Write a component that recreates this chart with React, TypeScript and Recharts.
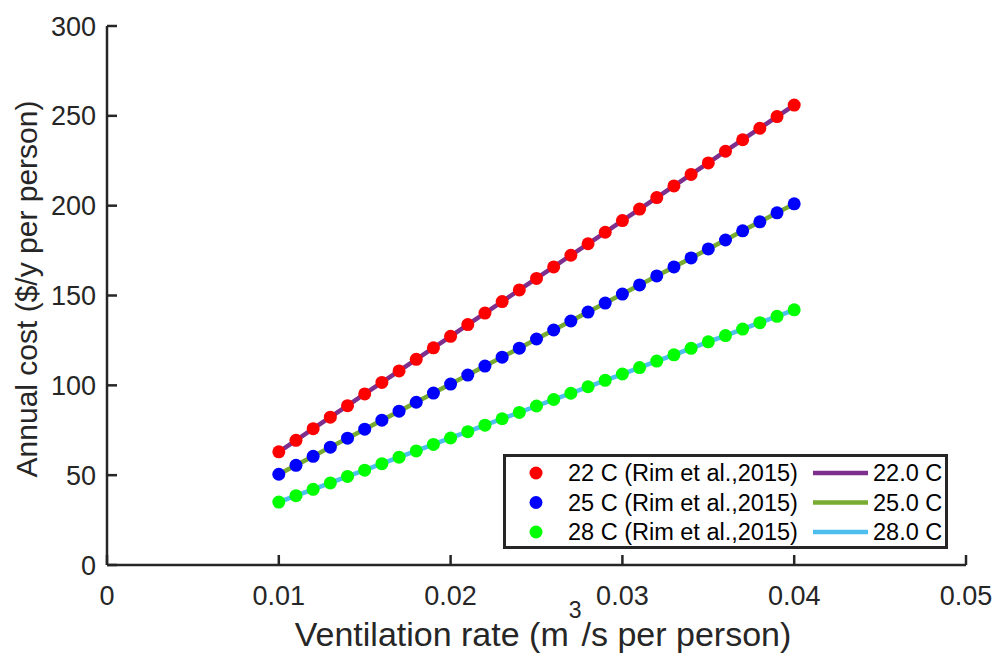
import React from 'react';
import { LineChart, Line, XAxis, YAxis, Legend, Label } from 'recharts';

const ventilationRate = [
  0.010, 0.011, 0.012, 0.013, 0.014, 0.015, 0.016, 0.017, 0.018, 0.019, 0.020,
  0.021, 0.022, 0.023, 0.024, 0.025, 0.026, 0.027, 0.028, 0.029, 0.030,
  0.031, 0.032, 0.033, 0.034, 0.035, 0.036, 0.037, 0.038, 0.039, 0.040,
];

const rim22 = [
  63.0, 69.4, 75.9, 82.3, 88.7, 95.2, 101.6, 108.0, 114.5, 120.9, 127.3,
  133.8, 140.2, 146.6, 153.1, 159.5, 165.9, 172.4, 178.8, 185.2, 191.7,
  198.1, 204.5, 211.0, 217.4, 223.8, 230.3, 236.7, 243.1, 249.6, 256.0,
];
const rim25 = [
  50.5, 55.5, 60.5, 65.6, 70.6, 75.6, 80.6, 85.6, 90.6, 95.7, 100.7,
  105.7, 110.7, 115.7, 120.7, 125.8, 130.8, 135.8, 140.8, 145.8, 150.8,
  155.9, 160.9, 165.9, 170.9, 175.9, 180.9, 186.0, 191.0, 196.0, 201.0,
];
const rim28 = [
  35.0, 38.6, 42.1, 45.7, 49.3, 52.8, 56.4, 60.0, 63.5, 67.1, 70.7,
  74.2, 77.8, 81.4, 84.9, 88.5, 92.1, 95.6, 99.2, 102.8, 106.3,
  109.9, 113.5, 117.0, 120.6, 124.2, 127.7, 131.3, 134.9, 138.4, 142.0,
];

const model22 = [
  63.0, 69.4, 75.9, 82.3, 88.7, 95.2, 101.6, 108.0, 114.5, 120.9, 127.3,
  133.8, 140.2, 146.6, 153.1, 159.5, 165.9, 172.4, 178.8, 185.2, 191.7,
  198.1, 204.5, 211.0, 217.4, 223.8, 230.3, 236.7, 243.1, 249.6, 256.0,
];
const model25 = [
  50.5, 55.5, 60.5, 65.6, 70.6, 75.6, 80.6, 85.6, 90.6, 95.7, 100.7,
  105.7, 110.7, 115.7, 120.7, 125.8, 130.8, 135.8, 140.8, 145.8, 150.8,
  155.9, 160.9, 165.9, 170.9, 175.9, 180.9, 186.0, 191.0, 196.0, 201.0,
];
const model28 = [
  35.0, 38.6, 42.1, 45.7, 49.3, 52.8, 56.4, 60.0, 63.5, 67.1, 70.7,
  74.2, 77.8, 81.4, 84.9, 88.5, 92.1, 95.6, 99.2, 102.8, 106.3,
  109.9, 113.5, 117.0, 120.6, 124.2, 127.7, 131.3, 134.9, 138.4, 142.0,
];

const xTicks = [0, 0.01, 0.02, 0.03, 0.04, 0.05];
const yTicks = [0, 50, 100, 150, 200, 250, 300];

const pointNames = ['22 C (Rim et al.,2015)', '25 C (Rim et al.,2015)', '28 C (Rim et al.,2015)'];
const lineNames = ['22.0 C', '25.0 C', '28.0 C'];
const pointColors = ['#ff0000', '#0000ff', '#00ff00'];
const lineColors = ['#7e2f8e', '#77ac30', '#4dbeee'];

const data = ventilationRate.map((x, i) => ({
  x,
  p22: rim22[i],
  p25: rim25[i],
  p28: rim28[i],
  m22: model22[i],
  m25: model25[i],
  m28: model28[i],
}));

const FONT = "'Liberation Sans', Arial, Helvetica, sans-serif";
const AX = '#262626';

const LegendBox = () => (
  <svg width={445} height={95} style={{ display: 'block' }}>
    <rect x={1.5} y={1.5} width={442} height={92} fill="#ffffff" stroke={AX} strokeWidth={3} />
    {pointNames.map((n, i) => {
      const cy = 19 + i * 29.5;
      return (
        <g key={n}>
          <circle cx={33} cy={cy} r={6.5} fill={pointColors[i]} />
          <text x={65} y={cy + 8.4} fontSize={23.5} fontFamily={FONT} fill="#000">{n}</text>
          <line x1={310} x2={365} y1={cy} y2={cy} stroke={lineColors[i]} strokeWidth={4.5} />
          <text x={370} y={cy + 8.4} fontSize={23.5} fontFamily={FONT} fill="#000">{lineNames[i]}</text>
        </g>
      );
    })}
  </svg>
);

export default function App() {
  const tickStyle = { fontSize: 27, fill: AX, fontFamily: FONT };
  const dotKeys = ['p22', 'p25', 'p28'];
  const lineKeys = ['m22', 'm25', 'm28'];
  return (
    <div style={{ position: 'absolute', left: 0, top: 0, width: 993, height: 662, background: '#fff' }}>
      <LineChart width={993} height={662} data={data} margin={{ top: 26, right: 27, left: 0, bottom: 0 }}>
        <XAxis
          dataKey="x"
          type="number"
          domain={[0, 0.05]}
          ticks={xTicks}
          interval={0}
          tickFormatter={(v: number) => (v === 0 ? '0' : v.toFixed(2))}
          height={97}
          tickSize={-10}
          tickMargin={31}
          tick={tickStyle}
          axisLine={{ stroke: AX, strokeWidth: 2.5 }}
          tickLine={{ stroke: AX, strokeWidth: 2.5 }}
        >
          <Label
            content={() => (
              <text x={543} y={646} textAnchor="middle" fontSize={34} fontFamily={FONT} fill={AX}>
                Ventilation rate (m
                <tspan dy={-28} fontSize={23}>3</tspan>
                <tspan dy={28}>/s per person)</tspan>
              </text>
            )}
          />
        </XAxis>
        <XAxis
          xAxisId="top"
          orientation="top"
          type="number"
          dataKey="x"
          domain={[0, 0.05]}
          ticks={xTicks}
          interval={0}
          height={0}
          tickSize={-10}
          tick={false}
          axisLine={{ stroke: AX, strokeWidth: 2.5 }}
          tickLine={{ stroke: AX, strokeWidth: 2.5 }}
        />
        <YAxis
          type="number"
          domain={[0, 300]}
          ticks={yTicks}
          interval={0}
          width={107}
          tickSize={-10}
          tickMargin={21}
          tick={tickStyle}
          axisLine={{ stroke: AX, strokeWidth: 2.5 }}
          tickLine={{ stroke: AX, strokeWidth: 2.5 }}
        >
          <Label
            content={() => (
              <text
                transform="translate(37,289) rotate(-90)"
                textAnchor="middle"
                fontSize={30}
                fontFamily={FONT}
                fill={AX}
              >
                Annual cost ($/y per person)
              </text>
            )}
          />
        </YAxis>
        <YAxis
          yAxisId="right"
          orientation="right"
          type="number"
          domain={[0, 300]}
          ticks={yTicks}
          interval={0}
          width={0}
          tickSize={-10}
          tick={false}
          axisLine={{ stroke: AX, strokeWidth: 2.5 }}
          tickLine={{ stroke: AX, strokeWidth: 2.5 }}
        />
        {dotKeys.map((k, i) => (
          <Line
            key={k}
            dataKey={k}
            name={pointNames[i]}
            stroke="none"
            strokeWidth={0}
            dot={{ r: 6.5, fill: pointColors[i], stroke: 'none' }}
            activeDot={false}
            isAnimationActive={false}
          />
        ))}
        {lineKeys.map((k, i) => (
          <Line
            key={k}
            dataKey={k}
            name={lineNames[i]}
            stroke={lineColors[i]}
            strokeWidth={4.5}
            dot={false}
            activeDot={false}
            isAnimationActive={false}
          />
        ))}
        <Legend
          layout="vertical"
          align="center"
          verticalAlign="middle"
          wrapperStyle={{ position: 'absolute', left: 503, top: 454, width: 445, height: 95, margin: 0, padding: 0 }}
          content={() => <LegendBox />}
        />
      </LineChart>
    </div>
  );
}
